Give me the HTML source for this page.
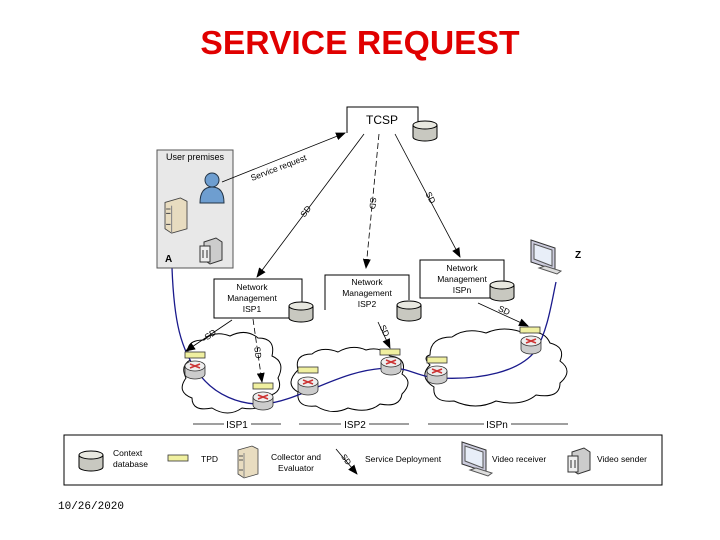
<!DOCTYPE html>
<html><head><meta charset="utf-8"><style>
html,body{margin:0;padding:0;background:#fff;}
svg{display:block;font-family:"Liberation Sans",sans-serif;}
</style></head><body>
<svg width="720" height="540" viewBox="0 0 720 540" xmlns="http://www.w3.org/2000/svg">
<defs>
<marker id="ar" markerWidth="10" markerHeight="8" refX="9" refY="4" orient="auto" markerUnits="userSpaceOnUse"><path d="M0,0 L10,4 L0,8 Z" fill="#000"/></marker>
<g id="db"><path d="M0,4 v12 a12,4 0 0 0 24,0 v-12" fill="#c8c8c0" stroke="#000" stroke-width="1"/><ellipse cx="12" cy="4" rx="12" ry="4" fill="#e8e8e0" stroke="#000"/></g>
<g id="rt"><path d="M0,5 v8 a10,5 0 0 0 20,0 v-8" fill="#ccc" stroke="#333" stroke-width="0.8"/><ellipse cx="10" cy="5" rx="10" ry="5" fill="#eee" stroke="#333" stroke-width="0.8"/><path d="M5,3 L15,7 M15,3 L5,7" stroke="#c33" stroke-width="1.5"/></g>
<g id="tpd"><rect x="0" y="0" width="20" height="6" fill="#f0f0a0" stroke="#333" stroke-width="0.8"/></g>
<g id="srv"><path d="M0,4 L14,0 L20,3 L20,28 L6,32 L0,28 Z" fill="#e8dcc0" stroke="#444" stroke-width="0.8"/><path d="M6,7 L6,32" stroke="#888"/><path d="M1,10 h4 M1,14 h4 M1,24 h4" stroke="#555"/></g>
<g id="mon"><path d="M0,0 L24,8 L24,30 L0,22 Z" fill="#ccd" stroke="#333"/><path d="M3,4 L21,10 L21,26 L3,19 Z" fill="#e8eef8" stroke="#555"/><path d="M8,28 L26,34 L30,31 L14,26 Z" fill="#ddd" stroke="#555"/></g>
<g id="cam"><path d="M4,4 L16,0 L22,4 L22,22 L10,26 L4,22 Z" fill="#ccc" stroke="#333"/><rect x="0" y="8" width="10" height="16" fill="#eee" stroke="#333"/><path d="M3,12 v8 M7,12 v8" stroke="#333"/></g>
</defs>

<text x="360" y="54" text-anchor="middle" font-size="33" font-weight="bold" fill="#e00000" transform="translate(360,0) scale(1.02,1) translate(-360,0)">SERVICE REQUEST</text>

<!-- clouds -->
<g fill="#fff" stroke="#000" stroke-width="1">
<path d="M190,360 q-8,-20 14,-20 q10,-10 26,-4 q16,-8 28,2 q18,0 14,18 q14,6 6,22 q6,14 -10,18 q-4,16 -26,12 q-14,10 -30,0 q-20,4 -20,-10 q-16,-6 -6,-20 q-6,-12 4,-18z"/>
<path d="M298,370 q-4,-16 14,-16 q10,-8 26,-2 q14,-8 28,-2 q14,-4 24,6 q18,2 12,18 q12,8 0,20 q-2,14 -22,10 q-12,10 -32,4 q-16,8 -32,-2 q-20,2 -18,-14 q-14,-8 0,-22z"/>
<path d="M430,355 q0,-18 22,-18 q14,-10 34,-4 q18,-8 38,0 q20,-4 26,10 q16,4 10,18 q14,10 0,22 q0,16 -24,12 q-14,12 -40,6 q-20,10 -42,0 q-22,2 -20,-14 q-16,-10 -4,-22 q-8,-8 0,-10z"/>
</g>

<!-- blue path -->
<path d="M172,268 C174,320 180,350 200,375 C215,395 240,405 263,404 C300,402 340,368 391,368 C410,368 420,378 440,378 C480,380 520,372 536,350 C548,330 552,300 556,282" fill="none" stroke="#1a1a8c" stroke-width="1.3"/>

<!-- routers & tpds -->
<use href="#tpd" x="185" y="352"/><use href="#rt" x="185" y="361"/>
<use href="#tpd" x="253" y="383"/><use href="#rt" x="253" y="392"/>
<use href="#tpd" x="298" y="367"/><use href="#rt" x="298" y="377"/>
<use href="#tpd" x="380" y="349"/><use href="#rt" x="381" y="357"/>
<use href="#tpd" x="427" y="357"/><use href="#rt" x="427" y="366"/>
<use href="#tpd" x="520" y="327"/><use href="#rt" x="521" y="336"/>

<!-- User premises -->
<rect x="157" y="150" width="76" height="118" fill="#e8e8e8" stroke="#555"/>
<text x="195" y="160" font-size="9" text-anchor="middle">User premises</text>
<text x="165" y="262" font-size="10" font-weight="bold">A</text>
<circle cx="212" cy="180" r="7" fill="#6e9ed0" stroke="#234"/>
<path d="M200,203 q0,-16 12,-16 q12,0 12,16 z" fill="#6e9ed0" stroke="#234"/>
<use href="#srv" x="165" y="198" transform="translate(165,198) scale(1.1) translate(-165,-198)"/>
<use href="#cam" x="200" y="238"/>

<!-- TCSP -->
<path d="M347,133 V107 H418 V122" fill="#fff" stroke="#000"/>
<text x="382" y="124" font-size="12" text-anchor="middle">TCSP</text>
<use href="#db" x="413" y="121"/>

<!-- NM boxes -->
<rect x="214" y="279" width="88" height="39" fill="#fff" stroke="#000"/>
<text font-size="8.5" text-anchor="middle"><tspan x="252" y="290">Network</tspan><tspan x="252" y="301">Management</tspan><tspan x="252" y="312">ISP1</tspan></text>
<use href="#db" x="289" y="302"/>
<path d="M325,310 V275 H409 V300" fill="#fff" stroke="#000"/>
<text font-size="8.5" text-anchor="middle"><tspan x="367" y="285">Network</tspan><tspan x="367" y="296">Management</tspan><tspan x="367" y="307">ISP2</tspan></text>
<use href="#db" x="397" y="301"/>
<rect x="420" y="260" width="84" height="38" fill="#fff" stroke="#000"/>
<text font-size="8.5" text-anchor="middle"><tspan x="462" y="271">Network</tspan><tspan x="462" y="282">Management</tspan><tspan x="462" y="293">ISPn</tspan></text>
<use href="#db" x="490" y="281"/>

<use href="#mon" x="531" y="240"/>
<text x="578" y="258" font-size="10" font-weight="bold" text-anchor="middle">Z</text>

<!-- arrows -->
<g stroke="#000" stroke-width="0.8" fill="none" marker-end="url(#ar)">
<path d="M222,182 L345,133"/>
<path d="M364,134 L257,277"/>
<path d="M379,134 L366,268" stroke-dasharray="6,3"/>
<path d="M395,134 L460,257"/>
<path d="M232,320 L186,351"/>
<path d="M253,319 L262,382" stroke-dasharray="6,3"/>
<path d="M378,322 L390,348"/>
<path d="M478,303 L528,326"/>
</g>
<g font-size="8.5" fill="#000">
<text transform="translate(252,181) rotate(-21)">Service request</text>
<text transform="translate(308,213) rotate(-53)" text-anchor="middle">SD</text>
<text transform="translate(370,203) rotate(95)" text-anchor="middle">SD</text>
<text transform="translate(428,199) rotate(62)" text-anchor="middle">SD</text>
<text transform="translate(212,337) rotate(-35)" text-anchor="middle">SD</text>
<text transform="translate(255,353) rotate(83)" text-anchor="middle">SD</text>
<text transform="translate(382,332) rotate(65)" text-anchor="middle">SD</text>
<text transform="translate(503,313) rotate(24)" text-anchor="middle">SD</text>
</g>

<!-- ISP labels -->
<g stroke="#000" stroke-width="0.8">
<path d="M193,424 H224 M251,424 H281"/>
<path d="M299,424 H341 M369,424 H409"/>
<path d="M428,424 H484 M511,424 H568"/>
</g>
<g font-size="10" text-anchor="middle">
<text x="237" y="428">ISP1</text><text x="355" y="428">ISP2</text><text x="497" y="428">ISPn</text>
</g>

<!-- legend -->
<rect x="64" y="435" width="598" height="50" fill="#fff" stroke="#000"/>
<use href="#db" x="79" y="451"/>
<text font-size="8.5"><tspan x="113" y="456">Context</tspan><tspan x="113" y="467">database</tspan></text>
<use href="#tpd" x="168" y="455"/>
<text x="201" y="462" font-size="8.5">TPD</text>
<use href="#srv" x="238" y="446"/>
<text font-size="8.5" text-anchor="middle"><tspan x="296" y="460">Collector and</tspan><tspan x="296" y="471">Evaluator</tspan></text>
<path d="M336,449 L357,474" stroke="#000" stroke-width="0.8" marker-end="url(#ar)"/>
<text transform="translate(344,461) rotate(55)" font-size="8" text-anchor="middle">SD</text>
<text x="365" y="462" font-size="8.5">Service Deployment</text>
<use href="#mon" x="462" y="442"/>
<text x="492" y="462" font-size="8.5">Video receiver</text>
<use href="#cam" x="568" y="448"/>
<text x="597" y="462" font-size="8.5">Video sender</text>

<text x="58" y="509" font-size="11" font-family="Liberation Mono, monospace">10/26/2020</text>
</svg>
</body></html>
